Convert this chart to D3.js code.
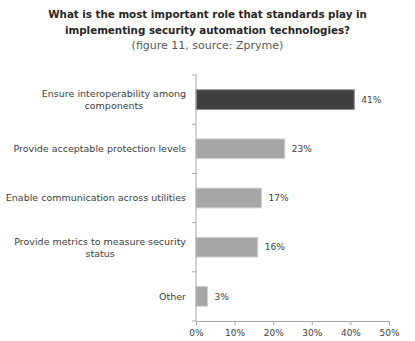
<!DOCTYPE html>
<html>
<head>
<meta charset="utf-8">
<script src="https://cdn.jsdelivr.net/npm/d3@7"></script>
<style>
  html, body { margin: 0; padding: 0; background: #fff; }
  svg { display: block; }
</style>
</head>
<body>
<svg id="chart" width="415" height="341"></svg>
<script>
// Survey answers, top to bottom
const categories = [
  ["Ensure interoperability among", "components"],
  ["Provide acceptable protection levels"],
  ["Enable communication across utilities"],
  ["Provide metrics to measure security", "status"],
  ["Other"]
];
const values = [41, 23, 17, 16, 3];
const highlight = [true, false, false, false, false];
const xTicks = [0, 10, 20, 30, 40, 50];
const titleLines = [
  "What is the most important role that standards play in",
  "implementing security automation technologies?"
];
const subtitle = "(figure 11, source: Zpryme)";

const svg = d3.select("#chart");
const font = "'DejaVu Sans', sans-serif";
const textColor = "#404040";
const axisColor = "#a6a6a6";

const plotLeft = 196, plotRight = 389, plotTop = 75, plotBottom = 321;

const x = d3.scaleLinear().domain([0, 50]).range([plotLeft, plotRight]);
const y = d3.scaleBand()
  .domain(d3.range(categories.length))
  .range([plotTop, plotBottom])
  .paddingInner(0.6)
  .paddingOuter(0.3);

// Title
const title = svg.append("g").attr("text-anchor", "middle").attr("font-family", font);
titleLines.forEach((t, i) => {
  title.append("text")
    .attr("x", 207.5).attr("y", 18 + i * 15.5)
    .attr("font-size", 10.3).attr("font-weight", "bold")
    .attr("fill", "#262626")
    .text(t);
});
title.append("text")
  .attr("x", 207.5).attr("y", 48.5)
  .attr("font-size", 11)
  .attr("fill", "#595959")
  .text(subtitle);

// Bars
svg.append("g").selectAll("rect")
  .data(values)
  .join("rect")
  .attr("x", x(0))
  .attr("y", (d, i) => y(i))
  .attr("width", d => x(d) - x(0))
  .attr("height", y.bandwidth())
  .attr("fill", (d, i) => highlight[i] ? "#404040" : "#a6a6a6")
  .attr("stroke", (d, i) => highlight[i] ? "#8c8c8c" : "#d0d0d0")
  .attr("stroke-width", 1);

// Value labels
svg.append("g").selectAll("text")
  .data(values)
  .join("text")
  .attr("x", d => x(d) + 7)
  .attr("y", (d, i) => y(i) + y.bandwidth() / 2)
  .attr("dy", "0.35em")
  .attr("font-family", font)
  .attr("font-size", 9)
  .attr("fill", textColor)
  .text(d => d + "%");

// Category labels: wrapped lines centred on each other, block right-aligned
const labelRight = 186;
const labels = svg.append("g").attr("font-family", font).attr("font-size", 9.5).attr("fill", textColor);
categories.forEach((lines, i) => {
  const cy = y(i) + y.bandwidth() / 2;
  const g = labels.append("g");
  const lh = 12;
  const texts = lines.map((t, k) => g.append("text")
    .attr("y", cy + (k - (lines.length - 1) / 2) * lh)
    .attr("dy", "0.35em")
    .attr("text-anchor", "middle")
    .text(t));
  const widths = texts.map(t => t.node().getComputedTextLength());
  const maxW = d3.max(widths);
  texts.forEach(t => t.attr("x", labelRight - maxW / 2));
});

// Vertical axis with ticks on category boundaries
const yAxis = svg.append("g");
yAxis.append("line")
  .attr("x1", plotLeft).attr("x2", plotLeft)
  .attr("y1", plotTop).attr("y2", plotBottom)
  .attr("stroke", axisColor);
d3.range(categories.length + 1).forEach(i => {
  const yy = plotTop + i * y.step();
  yAxis.append("line")
    .attr("x1", plotLeft - 4).attr("x2", plotLeft)
    .attr("y1", yy).attr("y2", yy)
    .attr("stroke", axisColor);
});

// Horizontal axis
const xAxis = svg.append("g")
  .attr("transform", `translate(0,${plotBottom})`)
  .call(d3.axisBottom(x).tickValues(xTicks).tickFormat(d => d + "%").tickSize(4).tickPadding(5));
xAxis.select(".domain").attr("stroke", axisColor);
xAxis.selectAll(".tick line").attr("stroke", axisColor);
xAxis.selectAll(".tick text")
  .attr("font-family", font)
  .attr("font-size", 9)
  .attr("fill", textColor);
</script>
</body>
</html>
